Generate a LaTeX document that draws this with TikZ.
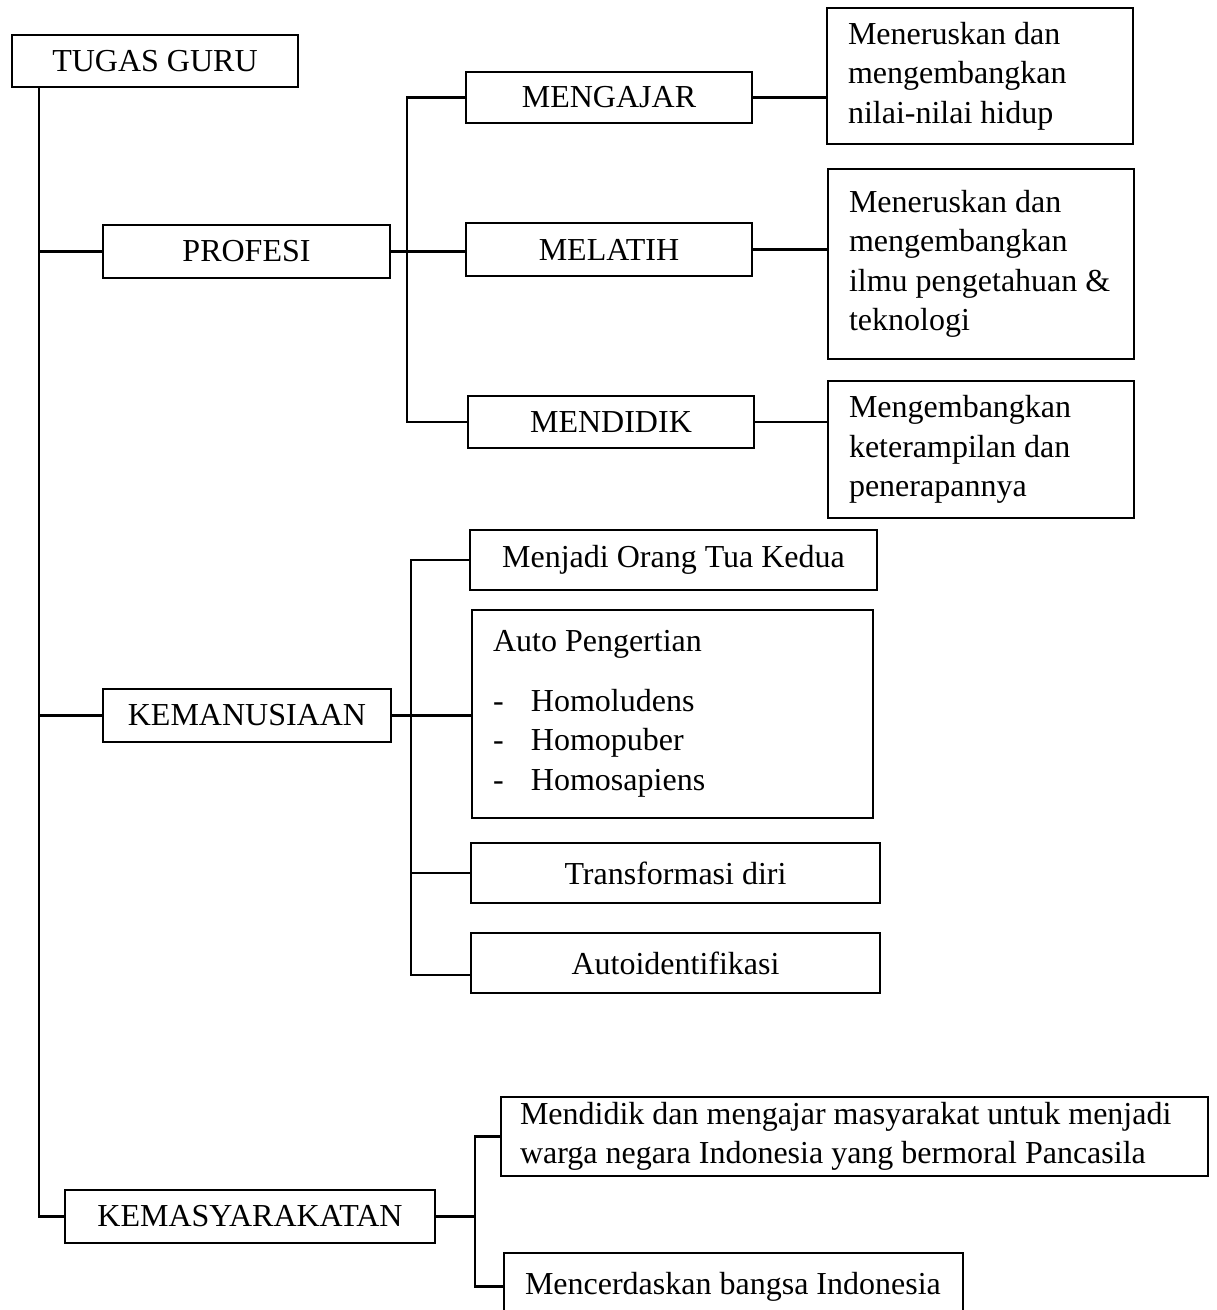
\documentclass[tikz,border=0pt]{standalone}
\usepackage{fontspec}
\setmainfont{Liberation Serif}
\begin{document}
\begin{tikzpicture}[x=0.5pt,y=-0.5pt,line width=1.1pt,
    every node/.style={font=\fontsize{16}{19.75}\selectfont},
    box/.style={draw,rectangle,inner sep=0pt,align=center},
    txtbox/.style={draw,rectangle,align=flush left,inner xsep=10.5pt,inner ysep=0pt}]
    \useasboundingbox (0,0) rectangle (1216,1310);
    \clip (0,0) rectangle (1216,1310);
    \node[box,minimum width=143pt,minimum height=26pt] (guru) at (155,61) {TUGAS GURU};
    \node[box,minimum width=143.5pt,minimum height=26.5pt] (profesi) at (246.5,251.5) {PROFESI};
    \node[box,minimum width=143pt,minimum height=25.5pt] (mengajar) at (609,97.5) {MENGAJAR};
    \node[box,minimum width=143pt,minimum height=26.5pt] (melatih) at (609,249.5) {MELATIH};
    \node[box,minimum width=143pt,minimum height=26pt] (mendidik) at (611,422) {MENDIDIK};
    \node[txtbox,text width=132pt,minimum height=68pt] (nilai) at (980,76) {Meneruskan dan\\ mengembangkan\\ nilai-nilai hidup};
    \node[txtbox,text width=132pt,minimum height=95pt] (ilmu) at (981,264) {Meneruskan dan\\ mengembangkan\\ \mbox{ilmu pengetahuan \&}\\ teknologi};
    \node[txtbox,text width=132pt,minimum height=68.5pt] (terampil) at (981,449.5) {Mengembangkan\\ keterampilan dan\\ penerapannya};
    \node[box,minimum width=144pt,minimum height=26.5pt] (kemanusiaan) at (247,715.5) {KEMANUSIAAN};
    \node[box,minimum width=203.5pt,minimum height=30pt] (ortu) at (673.5,560) {Menjadi Orang Tua Kedua};
    \node[txtbox,text width=179.5pt,minimum height=104pt] (auto) at (672.5,714) {Auto Pengertian\\[10pt]
        \makebox[19pt][l]{-}Homoludens\\ \makebox[19pt][l]{-}Homopuber\\ \makebox[19pt][l]{-}Homosapiens};
    \node[box,minimum width=204.5pt,minimum height=30pt] (transf) at (675.5,873) {Transformasi diri};
    \node[box,minimum width=204.5pt,minimum height=30pt] (autoid) at (675.5,963) {Autoidentifikasi};
    \node[box,minimum width=185pt,minimum height=26.5pt] (kemasy) at (250,1216.5) {KEMASYARAKATAN};
    \node[txtbox,inner xsep=9.5pt,text width=334.5pt,minimum height=39.5pt] (moral) at (854.5,1136.5) {Mendidik dan mengajar masyarakat untuk menjadi\\ warga negara Indonesia yang bermoral Pancasila};
    \node[txtbox,text width=208.5pt,minimum height=33.5pt] (cerdas) at (733.5,1286.5) {Mencerdaskan bangsa Indonesia};
    \coordinate (trunk) at ([xshift=14pt]guru.south west);
    \coordinate (pbus) at ([xshift=8pt]profesi.east);
    \coordinate (kbus) at ([xshift=9.5pt]kemanusiaan.east);
    \coordinate (mbus) at ([xshift=19.5pt]kemasy.east);
    \coordinate (aid) at ([yshift=-6pt]autoid.west);
    \draw (trunk) -- (trunk |- kemasy.west) -- (kemasy.west);
    \draw (trunk |- profesi.west) -- (profesi.west);
    \draw (trunk |- kemanusiaan.west) -- (kemanusiaan.west);
    \draw (profesi.east) -- (melatih.west |- profesi.east);
    \draw (mengajar.west) -- (pbus |- mengajar.west) -- (pbus |- mendidik.west) -- (mendidik.west);
    \draw (mengajar.east) -- (mengajar.east -| nilai.west);
    \draw (melatih.east) -- (melatih.east -| ilmu.west);
    \draw (mendidik.east) -- (mendidik.east -| terampil.west);
    \draw (kemanusiaan.east) -- (kemanusiaan.east -| auto.west);
    \draw (ortu.west) -- (kbus |- ortu.west) -- (kbus |- aid) -- (aid);
    \draw (kbus |- transf.west) -- (transf.west);
    \draw (kemasy.east) -- (mbus);
    \draw (moral.west) -- (mbus |- moral.west) -- (mbus |- cerdas.west) -- (cerdas.west);
\end{tikzpicture}
\end{document}
